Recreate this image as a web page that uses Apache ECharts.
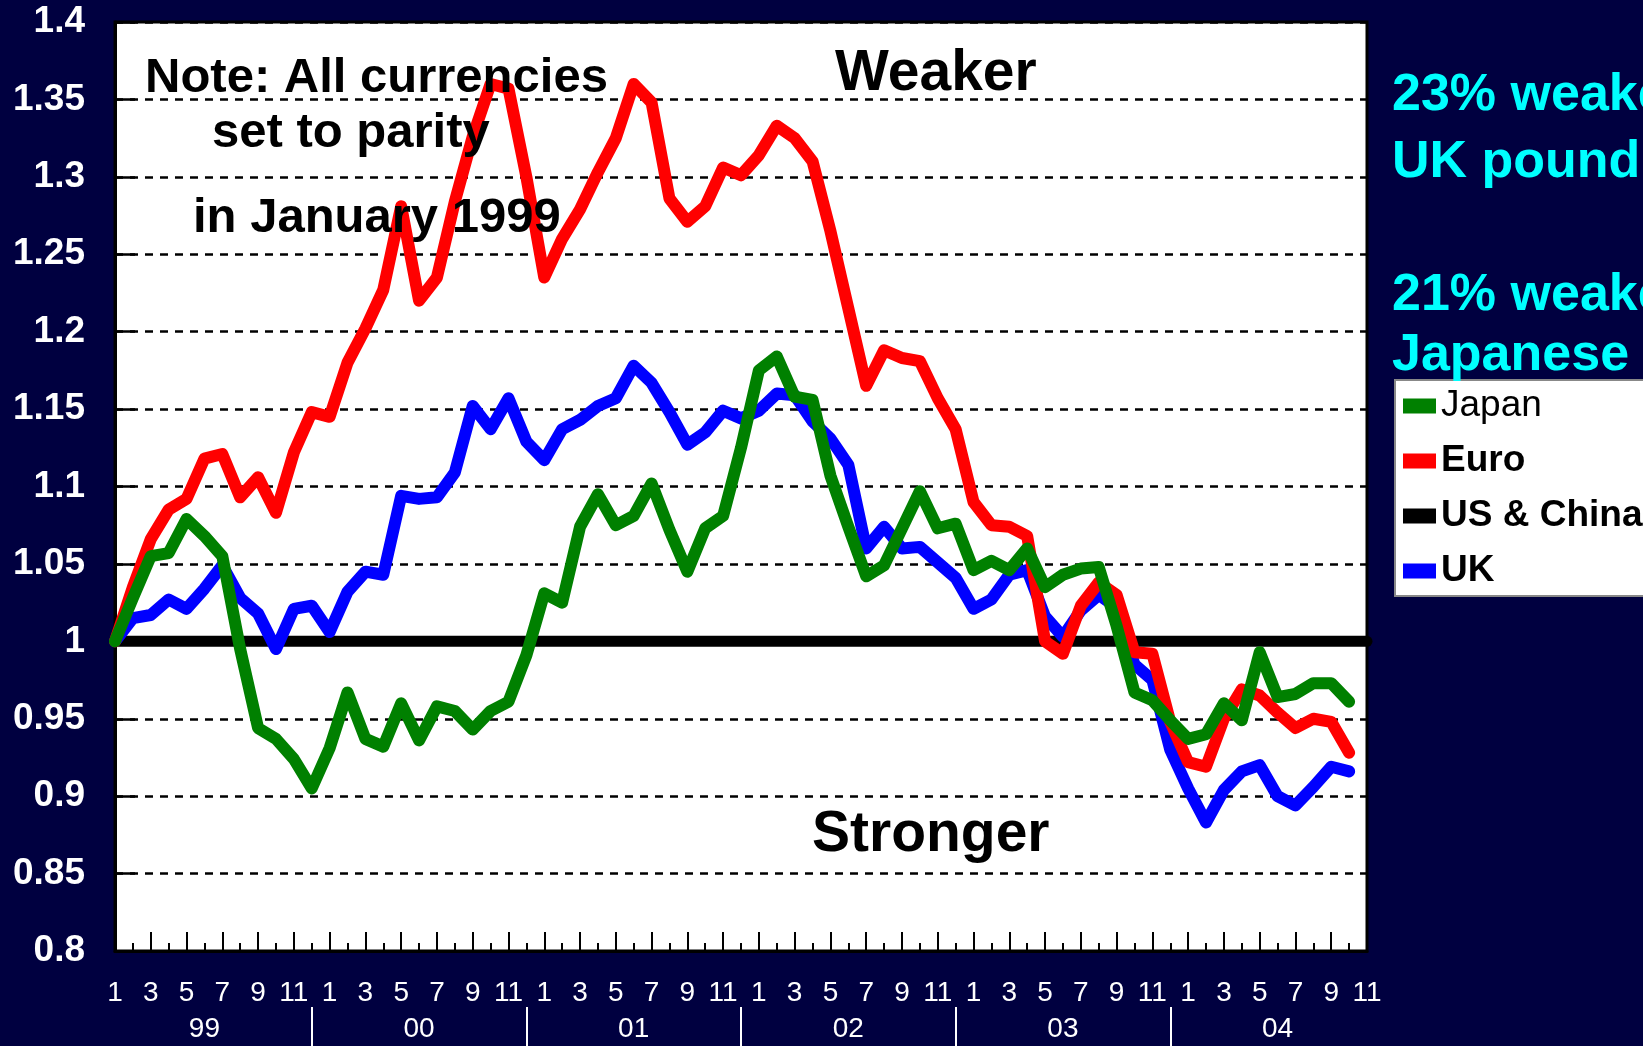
<!DOCTYPE html>
<html>
<head>
<meta charset="utf-8">
<script src="https://cdn.jsdelivr.net/npm/echarts@6/dist/echarts.min.js"></script>
<style>
	html, body { margin: 0; padding: 0; background: #000040; }
	#fx-chart { width: 1643px; height: 1046px; }
</style>
</head>
<body>
<div id="fx-chart"></div>
<script>
var yearLabels = ['99', '00', '01', '02', '03', '04'];
var monthLabels = ['1', '2', '3', '4', '5', '6', '7', '8', '9', '10', '11', '12'];

// monthly index, Jan 1999 = 1
var japan = [
	1.000, 1.028, 1.055, 1.057, 1.079, 1.068, 1.055, 0.995, 0.944, 0.937, 0.924, 0.905,
	0.931, 0.967, 0.937, 0.932, 0.960, 0.936, 0.958, 0.955, 0.943, 0.955, 0.961, 0.991,
	1.031, 1.025, 1.074, 1.095, 1.075, 1.081, 1.102, 1.072, 1.045, 1.073, 1.081, 1.125,
	1.175, 1.184, 1.158, 1.156, 1.107, 1.074, 1.042, 1.049, 1.073, 1.097, 1.073, 1.076,
	1.046, 1.052, 1.046, 1.060, 1.035, 1.043, 1.047, 1.048, 1.010, 0.967, 0.962, 0.949,
	0.937, 0.940, 0.960, 0.949, 0.993, 0.964, 0.966, 0.973, 0.973, 0.961
];
var euro = [
	1.000, 1.035, 1.066, 1.085, 1.092, 1.118, 1.121, 1.093, 1.106, 1.083, 1.122, 1.148,
	1.145, 1.180, 1.202, 1.227, 1.281, 1.220, 1.235, 1.284, 1.326, 1.360, 1.357, 1.300,
	1.235, 1.260, 1.279, 1.303, 1.325, 1.360, 1.348, 1.286, 1.271, 1.281, 1.306, 1.301,
	1.314, 1.333, 1.325, 1.310, 1.265, 1.215, 1.165, 1.188, 1.183, 1.181, 1.157, 1.137,
	1.090, 1.075, 1.074, 1.068, 1.000, 0.992, 1.023, 1.038, 1.030, 0.993, 0.992, 0.948,
	0.922, 0.919, 0.950, 0.969, 0.965, 0.954, 0.944, 0.950, 0.948, 0.928
];
var usChina = [
	1, 1, 1, 1, 1, 1, 1, 1, 1, 1, 1, 1,
	1, 1, 1, 1, 1, 1, 1, 1, 1, 1, 1, 1,
	1, 1, 1, 1, 1, 1, 1, 1, 1, 1, 1, 1,
	1, 1, 1, 1, 1, 1, 1, 1, 1, 1, 1, 1,
	1, 1, 1, 1, 1, 1, 1, 1, 1, 1, 1, 1,
	1, 1, 1, 1, 1, 1, 1, 1, 1, 1, 1
];
var uk = [
	1.000, 1.015, 1.017, 1.027, 1.021, 1.034, 1.049, 1.028, 1.018, 0.995, 1.021, 1.023,
	1.006, 1.032, 1.045, 1.043, 1.094, 1.092, 1.093, 1.109, 1.152, 1.137, 1.157, 1.129,
	1.117, 1.137, 1.143, 1.152, 1.157, 1.178, 1.167, 1.148, 1.127, 1.135, 1.149, 1.144,
	1.149, 1.160, 1.159, 1.142, 1.131, 1.114, 1.060, 1.074, 1.060, 1.061, 1.051, 1.041,
	1.021, 1.027, 1.043, 1.046, 1.016, 1.003, 1.020, 1.030, 1.022, 0.985, 0.975, 0.930,
	0.905, 0.883, 0.904, 0.916, 0.920, 0.900, 0.894, 0.906, 0.919, 0.916
];

// Jan 99 .. Nov 04
var months = [];
for (var y = 0; y < yearLabels.length; y++) {
	for (var m = 0; m < monthLabels.length; m++) {
		months.push(monthLabels[m]);
	}
}
months = months.slice(0, usChina.length);

var font = '"Liberation Sans", Arial, sans-serif';

function noteText(text, x, y, size, color) {
	return {
		type: 'text',
		z: 100,
		style: {
			text: text,
			x: x,
			y: y,
			fill: color,
			font: 'bold ' + size + 'px ' + font,
			verticalAlign: 'middle'
		}
	};
}

function lineSeries(name, data, color, width) {
	return {
		name: name,
		type: 'line',
		data: data,
		color: color,
		symbol: 'none',
		smooth: false,
		lineStyle: { color: color, width: width, cap: 'round', join: 'round' },
		itemStyle: { color: color }
	};
}

var chart = echarts.init(document.getElementById('fx-chart'));
var option = {
	animation: false,
	backgroundColor: '#000040',
	textStyle: { fontFamily: font },
	grid: {
		left: 115, top: 22, right: 276, bottom: 95,
		show: true,
		backgroundColor: '#ffffff',
		borderColor: '#000000',
		borderWidth: 3
	},
	legend: {
		orient: 'vertical',
		left: 1395,
		top: 380,
		icon: 'rect',
		itemWidth: 33,
		itemHeight: 15,
		itemGap: 15,
		selectedMode: false,
		backgroundColor: '#ffffff',
		borderColor: '#888888',
		borderWidth: 2,
		padding: [6, 40, 5, 8],
		textStyle: { color: '#000', fontSize: 37, fontWeight: 'bold', lineHeight: 40, fontFamily: font },
		data: [
			{ name: 'Japan', textStyle: { fontWeight: 'normal' } },
			{ name: 'Euro' },
			{ name: 'US & China' },
			{ name: 'UK' }
		]
	},
	xAxis: [{
		type: 'category',
		data: months,
		boundaryGap: false,
		position: 'bottom',
		offset: 0,
		axisLine: { lineStyle: { color: '#000', width: 3 } },
		axisTick: { inside: true, length: 19, interval: 1, lineStyle: { color: '#000', width: 2 } },
		axisLabel: { interval: 1, color: '#fff', fontSize: 28, margin: 28, fontFamily: font },
		splitLine: { show: false }
	}, {
		type: 'category',
		data: months,
		boundaryGap: false,
		position: 'bottom',
		offset: 0,
		axisLine: { show: false },
		axisTick: { inside: true, length: 8, interval: 0, lineStyle: { color: '#000', width: 2 } },
		axisLabel: { show: false },
		splitLine: { show: false }
	}, {
		type: 'category',
		data: months,
		boundaryGap: false,
		position: 'bottom',
		offset: 56,
		axisLine: { show: false },
		axisTick: {
			inside: false,
			length: 45,
			interval: function (idx) { return idx % 12 === 11; },
			lineStyle: { color: '#fff', width: 2 }
		},
		axisLabel: {
			color: '#fff',
			fontSize: 28,
			margin: 8,
			fontFamily: font,
			interval: function (idx) { return idx % 12 === 5; },
			formatter: function (val, idx) { return yearLabels[Math.floor(idx / 12)]; }
		},
		splitLine: { show: false }
	}],
	yAxis: {
		type: 'value',
		min: 0.8,
		max: 1.4,
		interval: 0.05,
		axisLine: { show: true, lineStyle: { color: '#000', width: 3 } },
		axisTick: { show: true, inside: true, length: 20, lineStyle: { color: '#000', width: 2.5 } },
		axisLabel: { color: '#fff', fontSize: 37, fontWeight: 'bold', margin: 30, fontFamily: font },
		splitLine: { show: true, lineStyle: { color: '#000', width: 2.5, type: [8, 7] } }
	},
	series: [
		lineSeries('US & China', usChina, '#000000', 11),
		lineSeries('UK', uk, '#0000ff', 12),
		lineSeries('Euro', euro, '#ff0000', 12),
		lineSeries('Japan', japan, '#008000', 12)
	],
	graphic: [
		noteText('Note: All currencies', 145, 78, 49, '#000'),
		noteText('set to parity', 212, 133, 49, '#000'),
		noteText('in January 1999', 193, 218, 49, '#000'),
		noteText('Weaker', 835, 74, 57, '#000'),
		noteText('Stronger', 812, 835, 57, '#000'),
		noteText('23% weaker', 1392, 96, 52, '#00ffff'),
		noteText('UK pound', 1392, 163, 52, '#00ffff'),
		noteText('21% weaker', 1392, 296, 52, '#00ffff'),
		noteText('Japanese yen', 1392, 356, 52, '#00ffff')
	]
};
chart.setOption(option);
</script>
</body>
</html>
